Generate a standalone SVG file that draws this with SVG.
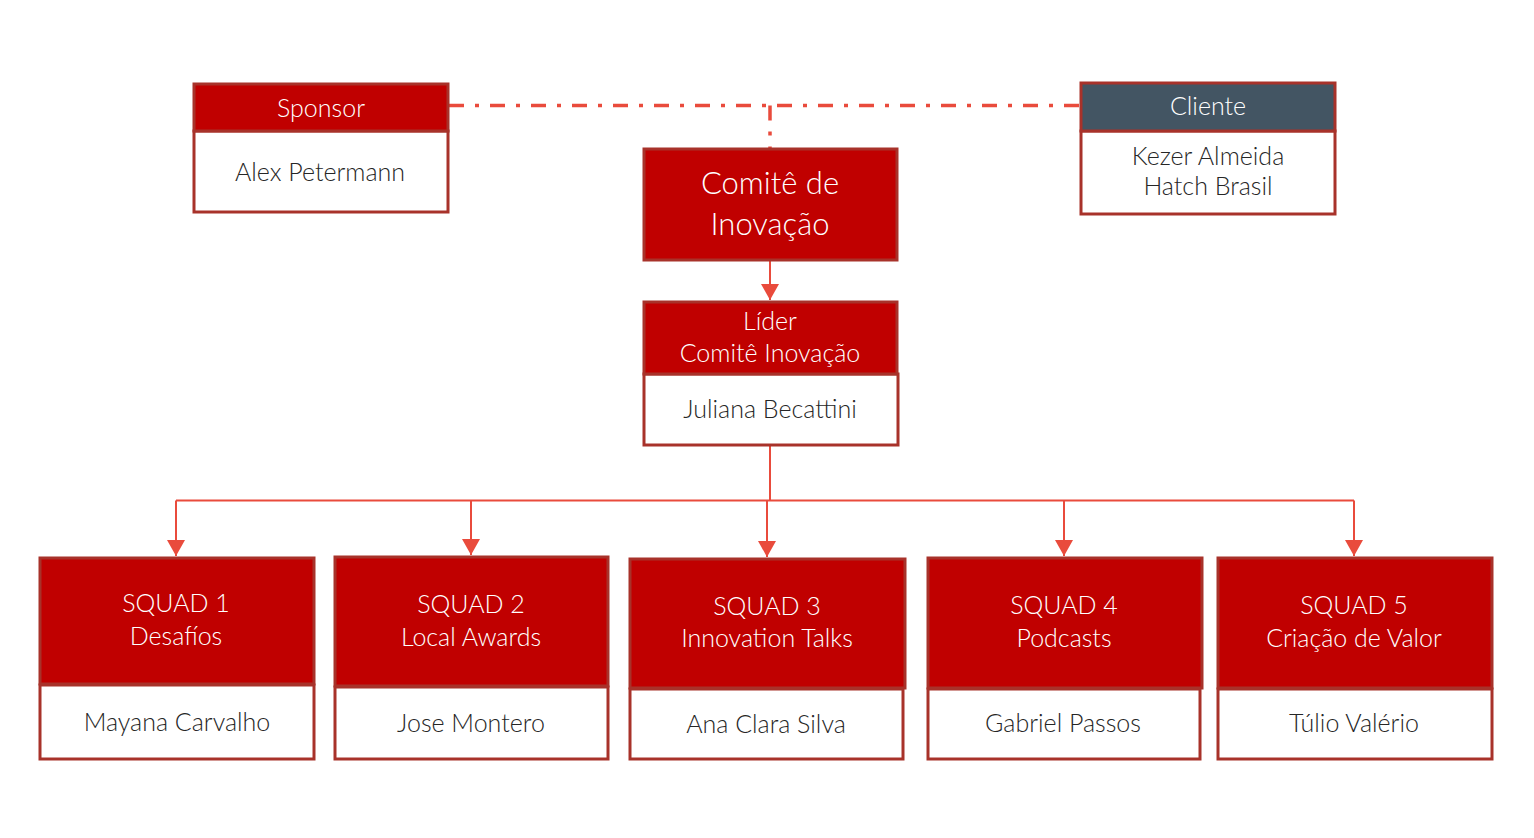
<svg xmlns="http://www.w3.org/2000/svg" width="1534" height="838" viewBox="0 0 1534 838">
<defs>
<marker id="arr" markerWidth="16" markerHeight="18" refX="16" refY="9" orient="auto" markerUnits="userSpaceOnUse" viewBox="0 0 16 18">
<path d="M0,0 L16,9 L0,18 Z" fill="#E94B3C"/>
</marker>
<style>
.hdr{fill:#C00000;stroke:#A8322A;stroke-width:3}
.hdr2{fill:#435563;stroke:#A8322A;stroke-width:3}
.body{fill:#FFFFFF;stroke:#A8322A;stroke-width:3}
text{font-family:"Lato","Source Sans Pro","Liberation Sans",sans-serif;font-weight:300;text-anchor:middle}
.w{fill:#FFFFFF;font-size:25px}
.d{fill:#262626;font-size:25px}
.big{fill:#FFFFFF;font-size:31px}
.ln{fill:none;stroke:#E94B3C;stroke-width:2}
.dash{fill:none;stroke:#E94B3C;stroke-width:3.5;stroke-dasharray:15 11 4 11}
</style>
</defs>
<rect width="1534" height="838" fill="#FFFFFF"/>
<g id="connectors">
<path class="dash" d="M449,105.5 L1080,105.5"/>
<path class="dash" d="M770,105.5 L770,148"/>
<path class="ln" d="M770,261 L770,300" marker-end="url(#arr)"/>
<path class="ln" d="M770,446 L770,500.5"/>
<path class="ln" d="M176,500.5 L1354,500.5"/>
<path class="ln" d="M176,500.5 L176,556" marker-end="url(#arr)"/>
<path class="ln" d="M471,500.5 L471,555" marker-end="url(#arr)"/>
<path class="ln" d="M767,500.5 L767,557" marker-end="url(#arr)"/>
<path class="ln" d="M1064,500.5 L1064,556" marker-end="url(#arr)"/>
<path class="ln" d="M1354,500.5 L1354,556" marker-end="url(#arr)"/>
</g>
<g id="sponsor">
<rect class="body" x="194" y="131" width="254" height="81"/>
<rect class="hdr" x="194" y="84" width="254" height="47"/>
<text class="w" x="321" y="117">Sponsor</text>
<text class="d" x="320" y="181">Alex Petermann</text>
</g>
<g id="cliente">
<rect class="body" x="1081" y="131" width="254" height="83"/>
<rect class="hdr2" x="1081" y="83" width="254" height="48"/>
<text class="w" x="1208" y="115">Cliente</text>
<text class="d" x="1208" y="165">Kezer Almeida</text>
<text class="d" x="1208" y="195">Hatch Brasil</text>
</g>
<g id="comite">
<rect class="hdr" x="644" y="149" width="253" height="111"/>
<text class="big" x="770" y="194">Comitê de</text>
<text class="big" x="770" y="235">Inovação</text>
</g>
<g id="lider">
<rect class="body" x="644" y="374" width="254" height="71"/>
<rect class="hdr" x="644" y="302" width="253" height="72"/>
<text class="w" x="770" y="330">Líder</text>
<text class="w" x="770" y="362">Comitê Inovação</text>
<text class="d" x="770" y="418">Juliana Becattini</text>
</g>
<g id="squad1">
<rect class="body" x="40" y="685" width="274" height="74"/>
<rect class="hdr" x="40" y="558" width="274" height="126"/>
<text class="w" x="176" y="612">SQUAD 1</text>
<text class="w" x="176" y="645">Desafíos</text>
<text class="d" x="177" y="731">Mayana Carvalho</text>
</g>
<g id="squad2">
<rect class="body" x="335" y="687" width="273" height="72"/>
<rect class="hdr" x="335" y="557" width="273" height="129"/>
<text class="w" x="471" y="613">SQUAD 2</text>
<text class="w" x="471" y="646">Local Awards</text>
<text class="d" x="471" y="732">Jose Montero</text>
</g>
<g id="squad3">
<rect class="body" x="630" y="689" width="273" height="70"/>
<rect class="hdr" x="630" y="559" width="275" height="129"/>
<text class="w" x="767" y="615">SQUAD 3</text>
<text class="w" x="767" y="647">Innovation Talks</text>
<text class="d" x="766" y="733">Ana Clara Silva</text>
</g>
<g id="squad4">
<rect class="body" x="928" y="689" width="272" height="70"/>
<rect class="hdr" x="928" y="558" width="274" height="130"/>
<text class="w" x="1064" y="614">SQUAD 4</text>
<text class="w" x="1064" y="647">Podcasts</text>
<text class="d" x="1063" y="732">Gabriel Passos</text>
</g>
<g id="squad5">
<rect class="body" x="1218" y="689" width="274" height="70"/>
<rect class="hdr" x="1218" y="558" width="274" height="130"/>
<text class="w" x="1354" y="614">SQUAD 5</text>
<text class="w" x="1354" y="647">Criação de Valor</text>
<text class="d" x="1354" y="732">Túlio Valério</text>
</g>
</svg>
